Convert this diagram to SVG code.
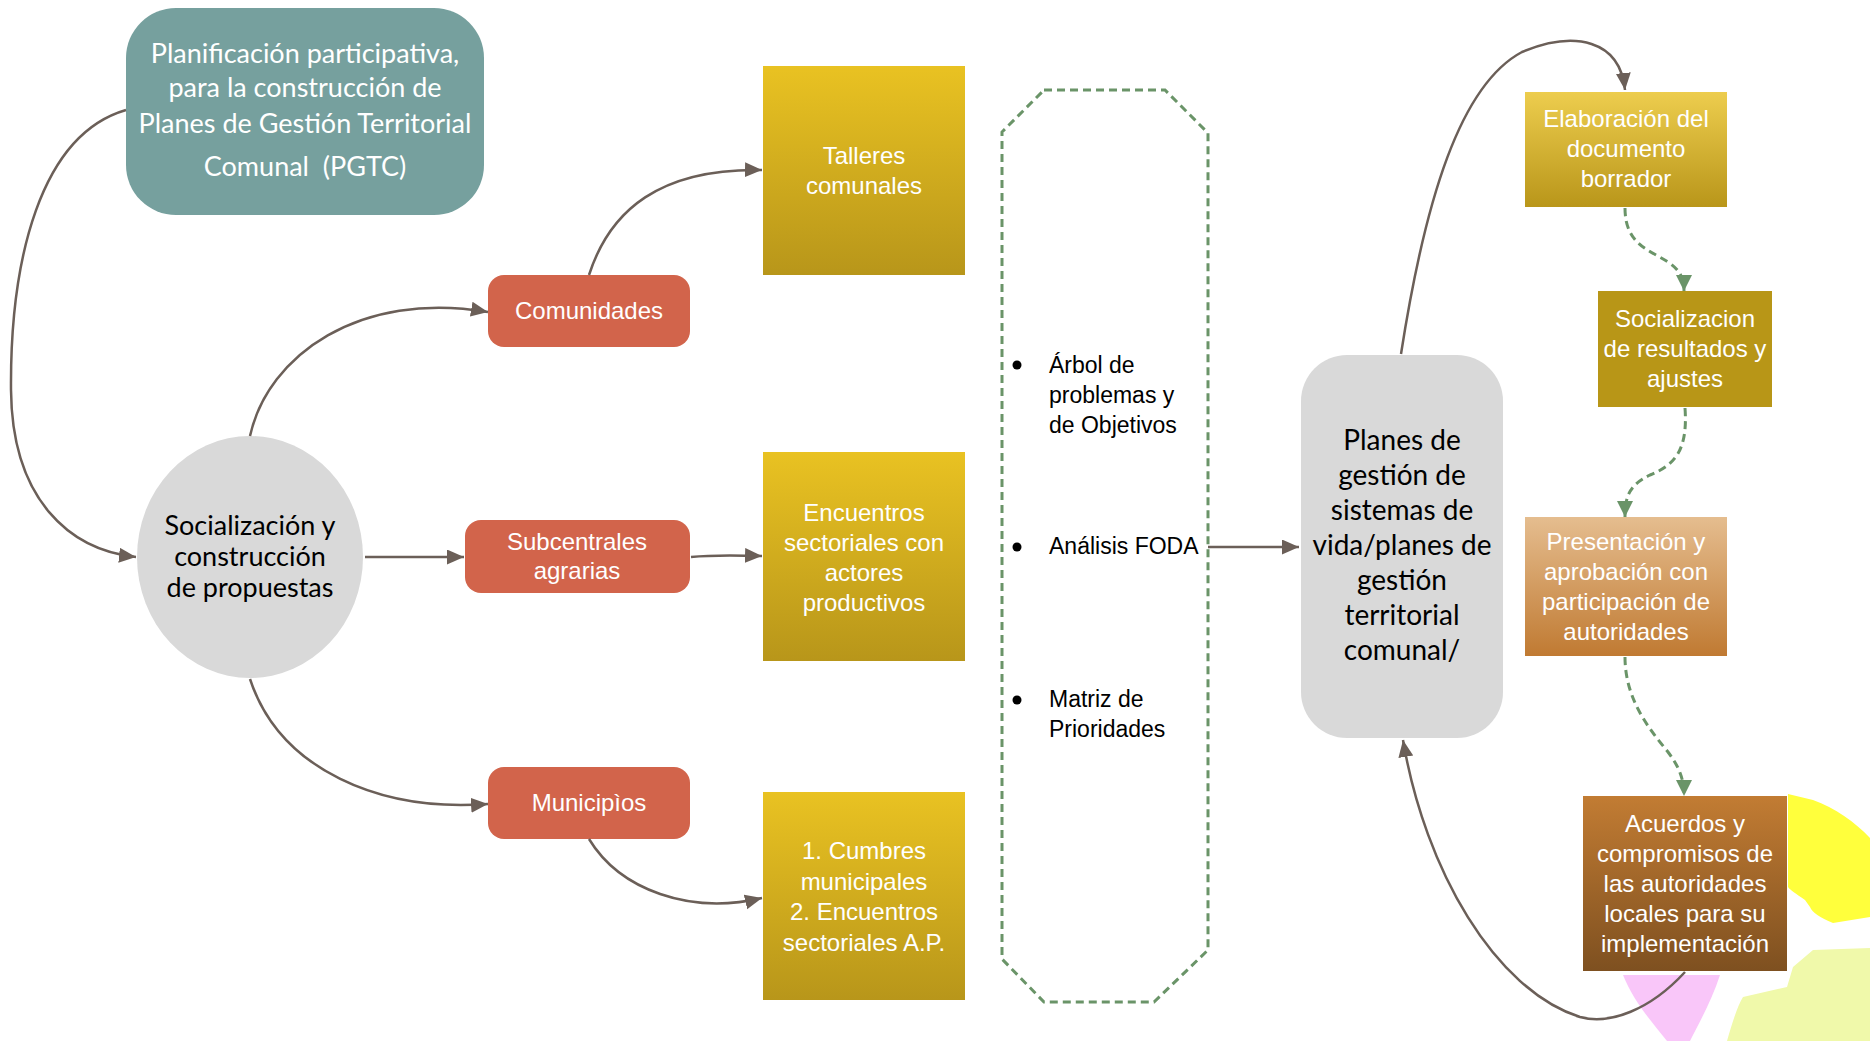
<svg xmlns="http://www.w3.org/2000/svg" width="1870" height="1041" viewBox="0 0 1870 1041">
<style>
.wt{fill:#fff;font-family:"Liberation Sans",Arial,sans-serif;font-size:24px;text-anchor:middle}
.cal{font-family:Lato,"Open Sans",sans-serif;text-anchor:middle}
.blk{fill:#000;font-family:"Liberation Sans",Arial,sans-serif;font-size:23px}
.con{fill:none;stroke:#6B5F58;stroke-width:2.5}
.dash{fill:none;stroke:#6A9468;stroke-width:3;stroke-dasharray:8 5}
.red{fill:#D2644B}
.gold{fill:url(#gGold)}
</style>
<defs>
<linearGradient id="gGold" x1="0" y1="0" x2="0" y2="1"><stop offset="0" stop-color="#E9C222"/><stop offset="1" stop-color="#B8961A"/></linearGradient>
<linearGradient id="gElab" x1="0" y1="0" x2="0" y2="1"><stop offset="0" stop-color="#EDCD4E"/><stop offset="1" stop-color="#B9961A"/></linearGradient>
<linearGradient id="gPres" x1="0" y1="0" x2="0" y2="1"><stop offset="0" stop-color="#E5BD8F"/><stop offset="1" stop-color="#C07A32"/></linearGradient>
<linearGradient id="gAcu" x1="0" y1="0" x2="0" y2="1"><stop offset="0" stop-color="#C27C33"/><stop offset="1" stop-color="#7E5020"/></linearGradient>
<marker id="ab" markerUnits="userSpaceOnUse" markerWidth="19" markerHeight="16" refX="17" refY="7.5" orient="auto"><path d="M0,0 L17,7.5 L0,15 Z" fill="#6B5F58"/></marker>
<marker id="ag" markerUnits="userSpaceOnUse" markerWidth="18" markerHeight="18" refX="16" refY="8" orient="auto"><path d="M0,0 L16,8 L0,16 Z" fill="#6A9468"/></marker>
</defs>
<rect width="1870" height="1041" fill="#fff"/>

<g id="decor">
<path d="M1788,794 L1813,800 C1835,808 1855,822 1870,838 L1870,917 L1833,923 C1820,918 1812,912 1810,907 L1805,900 C1795,893 1790,890 1788,887 Z" fill="#FFFF3C"/>
<path d="M1813,950 L1870,948 L1870,1041 L1727,1041 C1733,1020 1738,1005 1743,997 L1787,987 L1793,967 Z" fill="#F0F9AA"/>
<path d="M1623,975 L1720,975 C1712,1000 1698,1025 1690,1041 L1667,1041 C1650,1020 1633,1000 1623,975 Z" fill="#F9C6F9"/>
</g>

<g id="n-planificacion">
<rect x="126" y="8" width="358" height="207" rx="50" fill="#76A09E"/>
<text class="cal" fill="#fff" font-size="27"><tspan x="305" y="63">Planificación participativa,</tspan><tspan x="305" y="97">para la construcción de</tspan><tspan x="305" y="133">Planes de Gestión Territorial</tspan><tspan x="305" y="176">Comunal&#160; (PGTC)</tspan></text>
</g>

<g id="n-socializacion">
<ellipse cx="250" cy="557" rx="113" ry="121" fill="#D9D9D9"/>
<text class="cal" fill="#000" font-size="27"><tspan x="250" y="535">Socialización y</tspan><tspan x="250" y="566">construcción</tspan><tspan x="250" y="597">de propuestas</tspan></text>
</g>

<g id="n-comunidades">
<rect class="red" x="488" y="275" width="202" height="72" rx="16"/>
<text class="wt" x="589" y="319">Comunidades</text>
</g>

<g id="n-subcentrales">
<rect class="red" x="465" y="520" width="225" height="73" rx="16"/>
<text class="wt"><tspan x="577" y="550">Subcentrales</tspan><tspan x="577" y="579">agrarias</tspan></text>
</g>

<g id="n-municipios">
<rect class="red" x="488" y="767" width="202" height="72" rx="16"/>
<text class="wt" x="589" y="811">Municipìos</text>
</g>

<g id="n-talleres">
<rect class="gold" x="763" y="66" width="202" height="209"/>
<text class="wt"><tspan x="864" y="164">Talleres</tspan><tspan x="864" y="194">comunales</tspan></text>
</g>

<g id="n-encuentros">
<rect class="gold" x="763" y="452" width="202" height="209"/>
<text class="wt"><tspan x="864" y="521">Encuentros</tspan><tspan x="864" y="551">sectoriales con</tspan><tspan x="864" y="581">actores</tspan><tspan x="864" y="611">productivos</tspan></text>
</g>

<g id="n-cumbres">
<rect class="gold" x="763" y="792" width="202" height="208"/>
<text class="wt"><tspan x="864" y="859">1. Cumbres</tspan><tspan x="864" y="890">municipales</tspan><tspan x="864" y="920">2. Encuentros</tspan><tspan x="864" y="951">sectoriales A.P.</tspan></text>
</g>

<g id="n-herramientas">
<polygon points="1044,90 1165,90 1208,133 1208,950 1154,1002 1044,1002 1002,959 1002,132" fill="none" stroke="#6A9468" stroke-width="3" stroke-dasharray="8 5"/>
<circle cx="1017" cy="365" r="4.5" fill="#000"/>
<circle cx="1017" cy="547" r="4.5" fill="#000"/>
<circle cx="1017" cy="700" r="4.5" fill="#000"/>
<text class="blk"><tspan x="1049" y="373">Árbol de</tspan><tspan x="1049" y="403">problemas y</tspan><tspan x="1049" y="433">de Objetivos</tspan></text>
<text class="blk" x="1049" y="554">Análisis FODA</text>
<text class="blk"><tspan x="1049" y="707">Matriz de</tspan><tspan x="1049" y="737">Prioridades</tspan></text>
</g>

<g id="n-planes">
<rect x="1301" y="355" width="202" height="383" rx="46" fill="#D9D9D9"/>
<text class="cal" fill="#000" font-size="28"><tspan x="1402" y="450">Planes de</tspan><tspan x="1402" y="485">gestión de</tspan><tspan x="1402" y="520">sistemas de</tspan><tspan x="1402" y="555">vida/planes de</tspan><tspan x="1402" y="590">gestión</tspan><tspan x="1402" y="625">territorial</tspan><tspan x="1402" y="660">comunal/</tspan></text>
</g>

<g id="n-elaboracion">
<rect x="1525" y="92" width="202" height="115" fill="url(#gElab)"/>
<text class="wt"><tspan x="1626" y="127">Elaboración del</tspan><tspan x="1626" y="157">documento</tspan><tspan x="1626" y="187">borrador</tspan></text>
</g>

<g id="n-socializacion-resultados">
<rect x="1598" y="291" width="174" height="116" fill="#B89617"/>
<text class="wt"><tspan x="1685" y="327">Socializacion</tspan><tspan x="1685" y="357">de resultados y</tspan><tspan x="1685" y="387">ajustes</tspan></text>
</g>

<g id="n-presentacion">
<rect x="1525" y="517" width="202" height="139" fill="url(#gPres)"/>
<text class="wt"><tspan x="1626" y="550">Presentación y</tspan><tspan x="1626" y="580">aprobación con</tspan><tspan x="1626" y="610">participación de</tspan><tspan x="1626" y="640">autoridades</tspan></text>
</g>

<g id="n-acuerdos">
<rect x="1583" y="796" width="204" height="175" fill="url(#gAcu)"/>
<text class="wt"><tspan x="1685" y="832">Acuerdos y</tspan><tspan x="1685" y="862">compromisos de</tspan><tspan x="1685" y="892">las autoridades</tspan><tspan x="1685" y="922">locales para su</tspan><tspan x="1685" y="952">implementación</tspan></text>
</g>

<g id="connectors">
<path class="con" marker-end="url(#ab)" d="M126,110 C40,135 10,260 11,390 C12,500 70,550 136,557"/>
<path class="con" marker-end="url(#ab)" d="M250,436 C268,355 360,290 488,312"/>
<path class="con" marker-end="url(#ab)" d="M589,275 C610,210 660,168 762,170"/>
<path class="con" marker-end="url(#ab)" d="M365,557 L464,557"/>
<path class="con" marker-end="url(#ab)" d="M691,557 C710,555 730,555 762,556"/>
<path class="con" marker-end="url(#ab)" d="M250,679 C280,770 380,812 488,804"/>
<path class="con" marker-end="url(#ab)" d="M589,839 C620,890 690,915 762,898"/>
<path class="con" marker-end="url(#ab)" d="M1208,547 L1299,547"/>
<path class="con" marker-end="url(#ab)" d="M1401,354 C1425,200 1460,85 1522,52 C1575,30 1620,40 1625,90"/>
<path class="con" marker-end="url(#ab)" d="M1685,972 C1650,1010 1610,1025 1580,1017 C1495,990 1425,870 1403,740"/>
<path class="dash" marker-end="url(#ag)" d="M1625,208 C1625,245 1650,250 1668,262 C1680,270 1684,278 1684,291"/>
<path class="dash" marker-end="url(#ag)" d="M1685,408 C1688,450 1675,465 1650,475 C1630,485 1625,495 1625,517"/>
<path class="dash" marker-end="url(#ag)" d="M1625,657 C1625,700 1650,730 1668,752 C1680,768 1684,780 1684,796"/>
</g>
</svg>
